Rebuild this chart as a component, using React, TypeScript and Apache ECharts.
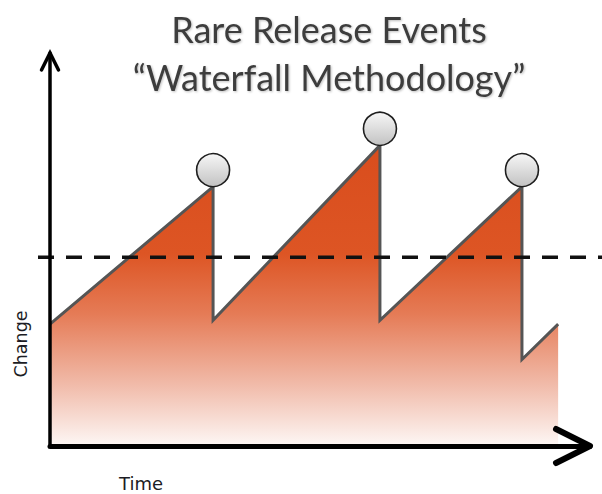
import React, { useEffect, useRef } from "react";
import * as echarts from "echarts";

// ---- data ----
const titleLines = ["Rare Release Events", "\u201CWaterfall Methodology\u201D"];
const xAxisName = "Time";
const yAxisName = "Change";
// sawtooth of accumulated change over time (vertical drops = releases)
const timeValues = [0, 30.2, 30.2, 61.1, 61.1, 87.4, 87.4, 94.1];
const changeValues = [31, 66, 32, 76.5, 32, 66, 22, 31];
const thresholdValue = 48;
const axisMax = 100;

export default function App() {
  const ref = useRef<HTMLDivElement>(null);

  useEffect(() => {
    if (!ref.current) return;
    const chart = echarts.init(ref.current, undefined, { renderer: "svg" });

    const lineData = timeValues.map((t, i) => [t, changeValues[i]]);
    const releaseData = lineData.filter(
      (p, i) =>
        i < lineData.length - 1 &&
        lineData[i + 1][0] === p[0] &&
        lineData[i + 1][1] < p[1]
    );

    const gridLeft = 50;
    const gridRight = 12;
    const gridTop = 53;
    const gridBottom = 48;
    const W = 602;
    const H = 494;

    chart.setOption({
      animation: false,
      backgroundColor: "#ffffff",
      title: {
        text: titleLines.join("\n"),
        left: 324,
        top: 0,
        textAlign: "center",
        textStyle: {
          fontFamily: "Lato",
          fontWeight: "normal",
          fontSize: 36,
          lineHeight: 48,
          color: "#3e3e3e",
          textShadowColor: "rgba(0,0,0,0.25)",
          textShadowBlur: 2,
          textShadowOffsetX: 1,
          textShadowOffsetY: 1,
        },
      },
      grid: { left: gridLeft, right: gridRight, top: gridTop, bottom: gridBottom },
      xAxis: {
        type: "value",
        min: 0,
        max: axisMax,
        z: 5,
        axisLine: { show: true, lineStyle: { color: "#000", width: 5 } },
        axisTick: { show: false },
        axisLabel: { show: false },
        splitLine: { show: false },
      },
      yAxis: {
        type: "value",
        min: 0,
        max: axisMax,
        z: 5,
        axisLine: { show: true, lineStyle: { color: "#000", width: 3.5 } },
        axisTick: { show: false },
        axisLabel: { show: false },
        splitLine: { show: false },
      },
      series: [
        {
          type: "line",
          data: lineData,
          showSymbol: false,
          symbol: "none",
          lineStyle: { color: "#555555", width: 3, join: "miter" },
          areaStyle: {
            opacity: 1,
            color: new echarts.graphic.LinearGradient(0, 0, 0, 1, [
              { offset: 0, color: "#d94d1d" },
              { offset: 0.36, color: "#dd5524" },
              { offset: 0.56, color: "#e57b56" },
              { offset: 0.8, color: "#f1bcab" },
              { offset: 1, color: "#fdf7f5" },
            ]),
          },
          z: 2,
        },
        {
          type: "scatter",
          data: releaseData,
          symbol: "circle",
          symbolSize: 33,
          symbolOffset: [0, "-50%"],
          itemStyle: {
            color: new echarts.graphic.LinearGradient(0, 0, 0, 1, [
              { offset: 0, color: "#f7f7f7" },
              { offset: 1, color: "#c2c2c2" },
            ]),
            borderColor: "#1e1e1e",
            borderWidth: 1.6,
            opacity: 1,
          },
          z: 4,
        },
      ],
    });

    const yPix = chart.convertToPixel({ yAxisIndex: 0 }, thresholdValue) as number;
    const xRight = W - gridRight;
    const yBottom = H - gridBottom;

    chart.setOption({
      graphic: [
        {
          type: "line",
          z: 3,
          shape: { x1: 38, y1: yPix, x2: W, y2: yPix },
          style: { stroke: "#111", lineWidth: 3.5, lineDash: [16, 12] },
        },
        {
          type: "polyline",
          z: 10,
          shape: {
            points: [
              [xRight - 34, yBottom - 17],
              [xRight, yBottom],
              [xRight - 34, yBottom + 17],
            ],
          },
          style: { stroke: "#000", lineWidth: 6, fill: "none", lineCap: "round", lineJoin: "round" },
        },
        {
          type: "polyline",
          z: 10,
          shape: {
            points: [
              [gridLeft - 8.5, gridTop + 17],
              [gridLeft, gridTop],
              [gridLeft + 8.5, gridTop + 17],
            ],
          },
          style: { stroke: "#000", lineWidth: 3.5, fill: "none", lineCap: "round", lineJoin: "miter" },
        },
        {
          type: "text",
          z: 10,
          x: 141,
          y: 483,
          style: {
            text: xAxisName,
            font: "18px 'DejaVu Sans', sans-serif",
            fill: "#1c1c24",
            textAlign: "center",
            textVerticalAlign: "middle",
          },
        },
        {
          type: "text",
          z: 10,
          x: 21,
          y: 344,
          rotation: Math.PI / 2,
          style: {
            text: yAxisName,
            font: "17.5px 'DejaVu Sans', sans-serif",
            fill: "#1c1c24",
            textAlign: "center",
            textVerticalAlign: "middle",
          },
        },
      ],
    });

    return () => chart.dispose();
  }, []);

  return (
    <div
      ref={ref}
      style={{ position: "fixed", left: 0, top: 0, width: 602, height: 494 }}
    />
  );
}
